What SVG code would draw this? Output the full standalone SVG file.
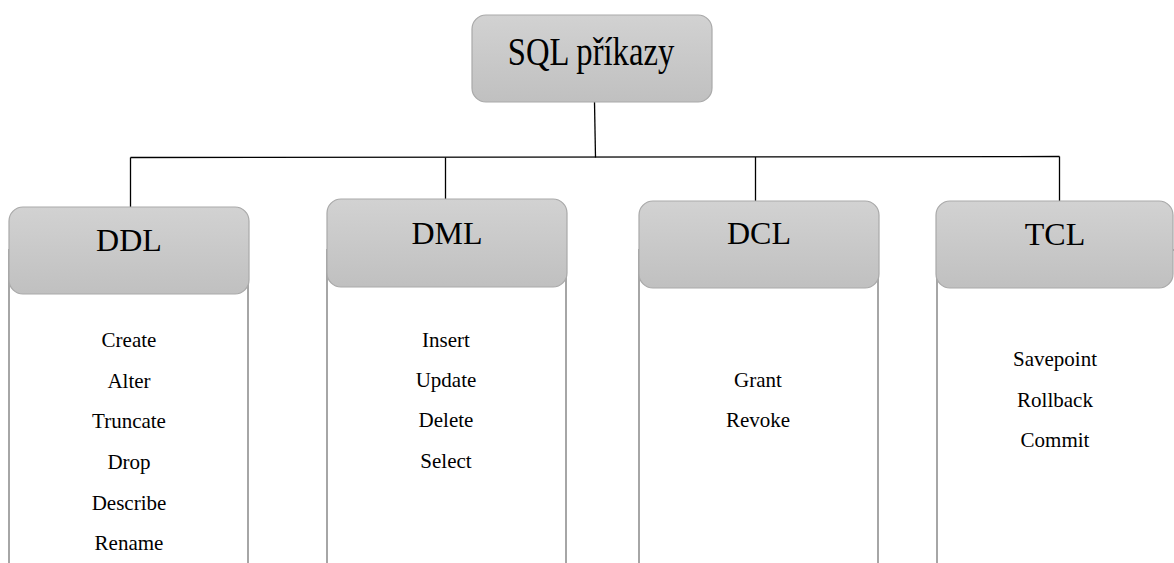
<svg xmlns="http://www.w3.org/2000/svg" width="1174" height="563" viewBox="0 0 1174 563">
<defs>
<linearGradient id="hg" x1="0" y1="0" x2="0" y2="1">
<stop offset="0" stop-color="#d2d2d2"/>
<stop offset="1" stop-color="#c0c0c0"/>
</linearGradient>
<style>
.head{fill:url(#hg);stroke:#a9a9a9;stroke-width:1.2}
.body{fill:#ffffff;stroke:#a6a6a6;stroke-width:2}
.conn{fill:none;stroke:#000000;stroke-width:1.3}
.t{font-family:"Liberation Serif","Times New Roman",serif;fill:#000000;text-anchor:middle}
.big{font-size:32px}
.item{font-size:21px}
</style>
</defs>
<rect width="1174" height="563" fill="#ffffff"/>
<g id="connectors">
<path class="conn" d="M594.5,102 L595.5,157.5"/>
<path class="conn" d="M130.5,157.5 L1059.5,156.5"/>
<path class="conn" d="M130.5,157.5 L130.5,207"/>
<path class="conn" d="M445.5,157.5 L445.5,199"/>
<path class="conn" d="M755.5,157 L755.5,201"/>
<path class="conn" d="M1059.5,156.5 L1059.5,201"/>
</g>
<g id="root">
<rect class="head" x="472" y="15" width="240" height="87" rx="14"/>
<text class="t big" transform="translate(591,65) scale(1.02,1.22)" x="0" y="0">SQL příkazy</text>
</g>
<g id="ddl">
<rect class="body" x="9" y="250" width="239" height="330"/>
<rect class="head" x="9" y="207" width="240" height="87" rx="14"/>
<text class="t big" x="129" y="251">DDL</text>
<text class="t item" x="129" y="347">Create</text>
<text class="t item" x="129" y="388">Alter</text>
<text class="t item" x="129" y="428">Truncate</text>
<text class="t item" x="129" y="469">Drop</text>
<text class="t item" x="129" y="510">Describe</text>
<text class="t item" x="129" y="550">Rename</text>
</g>
<g id="dml">
<rect class="body" x="327" y="250" width="239" height="330"/>
<rect class="head" x="327" y="199" width="240" height="88" rx="14"/>
<text class="t big" x="447" y="244">DML</text>
<text class="t item" x="446" y="347">Insert</text>
<text class="t item" x="446" y="387">Update</text>
<text class="t item" x="446" y="427">Delete</text>
<text class="t item" x="446" y="468">Select</text>
</g>
<g id="dcl">
<rect class="body" x="639" y="250" width="239" height="330"/>
<rect class="head" x="639" y="201" width="240" height="87" rx="14"/>
<text class="t big" x="759" y="244">DCL</text>
<text class="t item" x="758" y="387">Grant</text>
<text class="t item" x="758" y="427">Revoke</text>
</g>
<g id="tcl">
<rect class="body" x="937" y="250" width="260" height="330"/>
<rect class="head" x="936" y="201" width="237" height="87" rx="14"/>
<text class="t big" x="1055" y="245">TCL</text>
<text class="t item" x="1055" y="366">Savepoint</text>
<text class="t item" x="1055" y="407">Rollback</text>
<text class="t item" x="1055" y="447">Commit</text>
</g>
</svg>
